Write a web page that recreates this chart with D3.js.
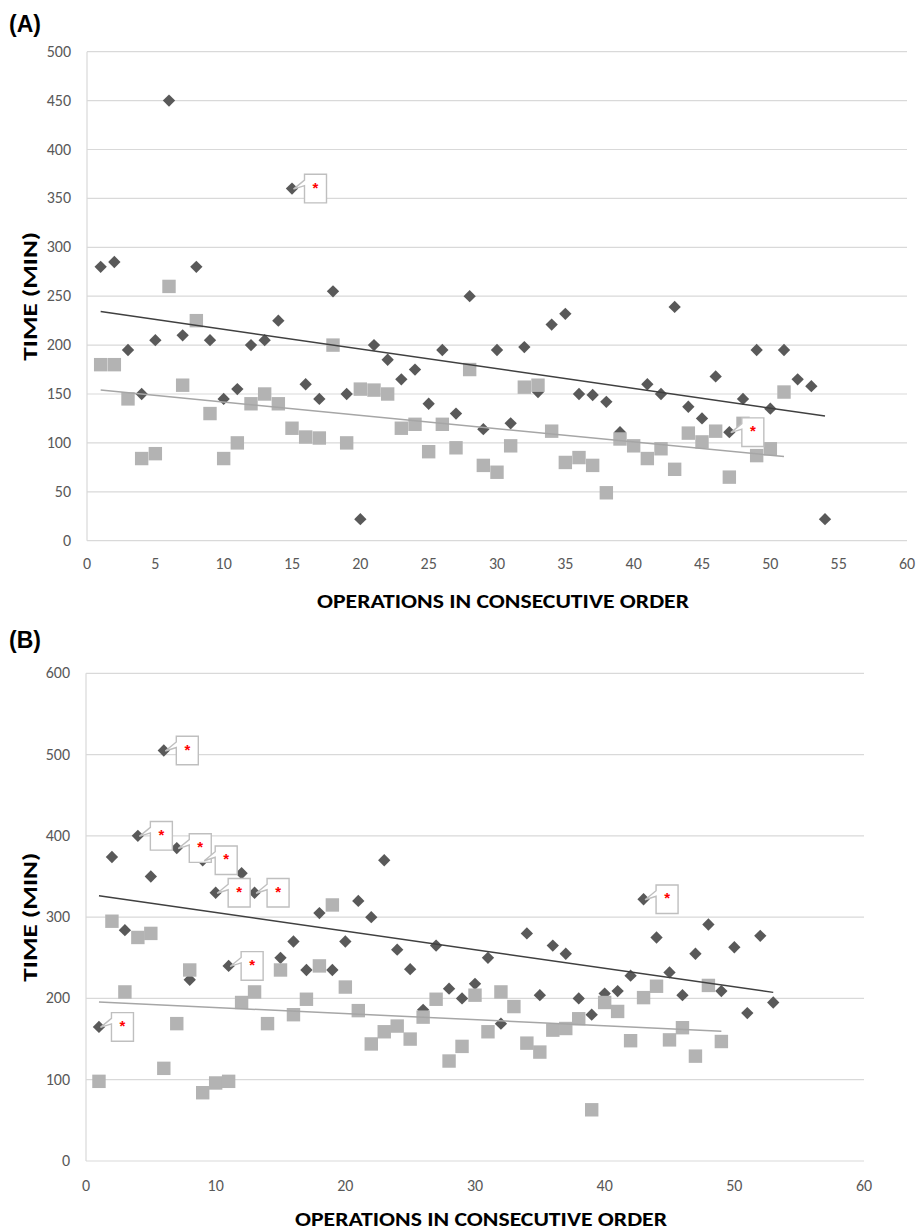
<!DOCTYPE html>
<html>
<head>
<meta charset="utf-8">
<script src="https://cdn.jsdelivr.net/npm/d3@7"></script>
<style>
  body { margin: 0; background: #fff; }
  svg { display: block; }
</style>
</head>
<body>
<svg id="chart" width="917" height="1230"></svg>
<script>
// operation number = position in the list (1-based), null = no point drawn
const aDark = [280, 285, 195, 150, 205, 450, 210, 280, 205, 145,
  155, 200, 205, 225, 360, 160, 145, 255, 150, 22,
  200, 185, 165, 175, 140, 195, 130, 250, 114, 195,
  120, 198, 152, 221, 232, 150, 149, 142, 111, null,
  160, 150, 239, 137, 125, 168, 111, 145, 195, 135,
  195, 165, 158, 22];
const aLight = [180, 180, 145, 84, 89, 260, 159, 225, 130, 84,
  100, 140, 150, 140, 115, 106, 105, 200, 100, 155,
  154, 150, 115, 119, 91, 119, 95, 175, 77, 70,
  97, 157, 159, 112, 80, 85, 77, 49, 104, 97,
  84, 94, 73, 110, 101, 112, 65, 120, 87, 94,
  152];
const aMarked = [15, 47];

const bDark = [165, 374, 284, 400, 350, 505, 385, 223, 370, 330,
  240, 354, 330, null, 250, 270, 235, 305, 235, 270,
  320, 300, 370, 260, 236, 186, 265, 212, 200, 218,
  250, 169, null, 280, 204, 265, 255, 200, 180, 206,
  209, 228, 322, 275, 232, 204, 255, 291, 209, 263,
  182, 277, 195];
const bLight = [98, 295, 208, 275, 280, 114, 169, 235, 84, 96,
  98, 195, 208, 169, 235, 180, 199, 240, 315, 214,
  185, 144, 159, 166, 150, 177, 199, 123, 141, 204,
  159, 208, 190, 145, 134, 161, 163, 175, 63, 195,
  184, 148, 201, 215, 149, 164, 129, 216, 147];
const bMarked = [1, 4, 6, 7, 9, 10, 11, 13, 43];

const xTicksA = [0, 5, 10, 15, 20, 25, 30, 35, 40, 45, 50, 55, 60];
const yTicksA = [0, 50, 100, 150, 200, 250, 300, 350, 400, 450, 500];
const xTicksB = [0, 10, 20, 30, 40, 50, 60];
const yTicksB = [0, 100, 200, 300, 400, 500, 600];

const svg = d3.select('#chart');
const tickFont = "Carlito, 'Open Sans', sans-serif";
const titleFont = "Carlito, 'Open Sans', sans-serif";

function toPoints(vals) {
  return vals.map((v, i) => ({ x: i + 1, y: v })).filter(d => d.y !== null);
}

function fit(pts) {
  const mx = d3.mean(pts, d => d.x), my = d3.mean(pts, d => d.y);
  let sxy = 0, sxx = 0;
  pts.forEach(d => { sxy += (d.x - mx) * (d.y - my); sxx += (d.x - mx) ** 2; });
  const b = sxy / sxx, a = my - b * mx;
  const x0 = d3.min(pts, d => d.x), x1 = d3.max(pts, d => d.x);
  return [{ x: x0, y: a + b * x0 }, { x: x1, y: a + b * x1 }];
}

function panel(opt) {
  const { x, y, xTicks, yTicks, dark, light, marked, label, labelY, xTitleY, xLabelY } = opt;
  const g = svg.append('g');

  // gridlines
  g.append('g').selectAll('line').data(yTicks).enter().append('line')
    .attr('x1', x.range()[0]).attr('x2', x.range()[1])
    .attr('y1', d => y(d)).attr('y2', d => y(d))
    .attr('stroke', '#d9d9d9').attr('stroke-width', 1.2);
  g.append('line')
    .attr('x1', x.range()[0]).attr('x2', x.range()[0])
    .attr('y1', y.range()[0]).attr('y2', y.range()[1])
    .attr('stroke', '#d9d9d9').attr('stroke-width', 1.2);

  // tick labels
  g.append('g').selectAll('text').data(yTicks).enter().append('text')
    .attr('x', x.range()[0] - 16).attr('y', d => y(d) + 5)
    .attr('text-anchor', 'end')
    .attr('font-family', tickFont).attr('font-size', 16).attr('fill', '#595959')
    .text(d => d);
  g.append('g').selectAll('text').data(xTicks).enter().append('text')
    .attr('x', d => x(d)).attr('y', xLabelY)
    .attr('text-anchor', 'middle')
    .attr('font-family', tickFont).attr('font-size', 16).attr('fill', '#595959')
    .text(d => d);

  const darkPts = toPoints(dark), lightPts = toPoints(light);

  const diamond = d3.symbol().type(d3.symbolSquare).size(76);
  g.append('g').selectAll('path').data(darkPts).enter().append('path')
    .attr('d', diamond)
    .attr('transform', d => `translate(${x(d.x)},${y(d.y)}) rotate(45)`)
    .attr('fill', '#595959');

  const square = d3.symbol().type(d3.symbolSquare).size(180);
  g.append('g').selectAll('path').data(lightPts).enter().append('path')
    .attr('d', square)
    .attr('transform', d => `translate(${x(d.x)},${y(d.y)})`)
    .attr('fill', '#b3b3b3');

  // linear trendlines
  const line = d3.line().x(d => x(d.x)).y(d => y(d.y));
  g.append('path').attr('d', line(fit(darkPts)))
    .attr('stroke', '#404040').attr('stroke-width', 1.5).attr('fill', 'none');
  g.append('path').attr('d', line(fit(lightPts)))
    .attr('stroke', '#a6a6a6').attr('stroke-width', 1.5).attr('fill', 'none');

  // callouts with a red asterisk
  const calls = g.append('g').selectAll('g')
    .data(darkPts.filter(d => marked.includes(d.x))).enter().append('g')
    .attr('transform', d => `translate(${x(d.x)},${y(d.y)})`);
  calls.append('path')
    .attr('d', 'M12.5,-14.3 H34.5 V14.3 H12.5 V-3 L1.5,0.5 L12.5,-8.5 Z')
    .attr('fill', '#fff').attr('stroke', '#bfbfbf').attr('stroke-width', 1.4);
  calls.append('text')
    .attr('x', 23.5).attr('y', 4)
    .attr('text-anchor', 'middle')
    .attr('font-family', 'Liberation Sans, Arial, sans-serif')
    .attr('font-weight', 'bold').attr('font-size', 15).attr('fill', '#ff0000')
    .text('*');

  // titles
  const xm = (x.range()[0] + x.range()[1]) / 2 + 6;
  g.append('text')
    .attr('x', xm).attr('y', xTitleY)
    .attr('text-anchor', 'middle')
    .attr('font-family', titleFont).attr('font-weight', 'bold').attr('font-size', 20)
    .attr('textLength', 372).attr('lengthAdjust', 'spacingAndGlyphs')
    .attr('fill', '#000')
    .text('OPERATIONS IN CONSECUTIVE ORDER');
  const ym = (y.range()[0] + y.range()[1]) / 2;
  g.append('text')
    .attr('transform', `translate(37,${ym}) rotate(-90)`)
    .attr('text-anchor', 'middle')
    .attr('font-family', titleFont).attr('font-weight', 'bold').attr('font-size', 20)
    .attr('textLength', 129).attr('lengthAdjust', 'spacingAndGlyphs')
    .attr('fill', '#000')
    .text('TIME (MIN)');

  g.append('text')
    .attr('x', 9).attr('y', labelY)
    .attr('font-family', 'Liberation Sans, Arial, sans-serif')
    .attr('font-weight', 'bold').attr('font-size', 23).attr('fill', '#000')
    .text(label);
}

panel({
  x: d3.scaleLinear().domain([0, 60]).range([87, 907]),
  y: d3.scaleLinear().domain([0, 500]).range([540.7, 51.7]),
  xTicks: xTicksA, yTicks: yTicksA,
  dark: aDark, light: aLight, marked: aMarked,
  label: '(A)', labelY: 32, xLabelY: 569, xTitleY: 608
});

panel({
  x: d3.scaleLinear().domain([0, 60]).range([86, 864]),
  y: d3.scaleLinear().domain([0, 600]).range([1161, 673.3]),
  xTicks: xTicksB, yTicks: yTicksB,
  dark: bDark, light: bLight, marked: bMarked,
  label: '(B)', labelY: 648, xLabelY: 1191, xTitleY: 1226
});
</script>
</body>
</html>
